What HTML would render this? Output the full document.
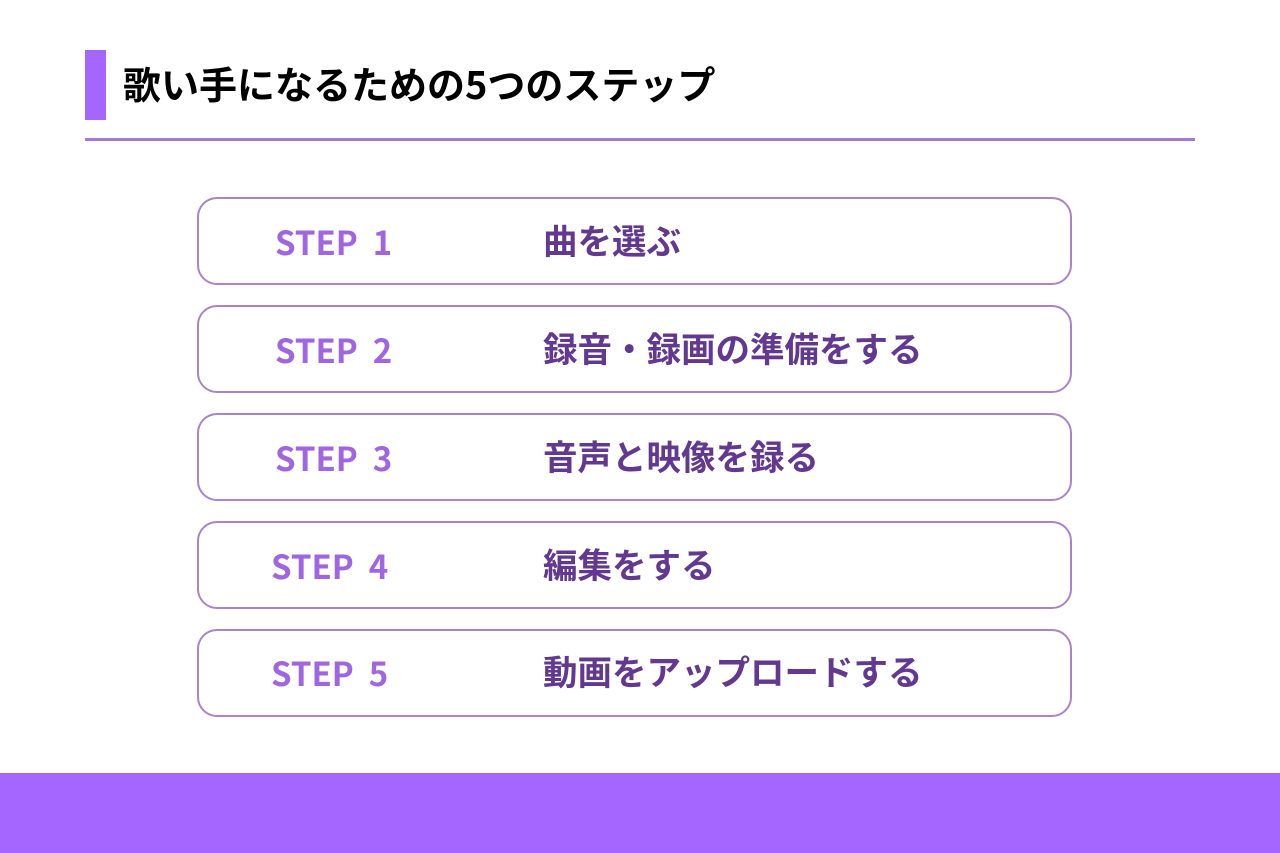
<!DOCTYPE html>
<html lang="ja"><head><meta charset="utf-8">
<style>
html,body{margin:0;padding:0;background:#fff}
#p{position:relative;width:1280px;height:853px;overflow:hidden;background:#fff;font-family:"Liberation Sans","Noto Sans CJK JP",sans-serif}
.a{position:absolute}
.t{white-space:nowrap;font-weight:700;line-height:1}
.box{position:absolute;left:197px;width:871px;height:84px;border:2px solid #a884cb;border-radius:20px;background:#fff}
.s{font-size:33px;color:#9f66e0;font-family:"Noto Sans CJK JP","Liberation Sans",sans-serif;white-space:pre}
.j{font-size:34.5px;color:#63388f;font-family:"Noto Sans CJK JP",sans-serif}
</style></head><body><div id="p">
<div class="a" style="left:85px;top:50px;width:21px;height:70px;background:#a566ff"></div>
<div class="a t" style="left:123px;top:64px;font-size:38px;color:#000;font-family:'Noto Sans CJK JP',sans-serif">歌い手になるための5つのステップ</div>
<div class="a" style="left:85px;top:138px;width:1110px;height:3px;background:#a678d2"></div>

<div class="box" style="top:197px"></div>
<div class="box" style="top:305px"></div>
<div class="box" style="top:413px"></div>
<div class="box" style="top:521px"></div>
<div class="box" style="top:629px"></div>

<div class="a t s" style="left:275px;top:225px">STEP  1</div>
<div class="a t s" style="left:275px;top:333px">STEP  2</div>
<div class="a t s" style="left:275px;top:441px">STEP  3</div>
<div class="a t s" style="left:271px;top:549px">STEP  4</div>
<div class="a t s" style="left:271px;top:656px">STEP  5</div>

<div class="a t j" style="left:543px;top:222px">曲を選ぶ</div>
<div class="a t j" style="left:543px;top:330px">録音・録画の準備をする</div>
<div class="a t j" style="left:543px;top:438px">音声と映像を録る</div>
<div class="a t j" style="left:543px;top:546px">編集をする</div>
<div class="a t j" style="left:543px;top:653px">動画をアップロードする</div>

<div class="a" style="left:0;top:773px;width:1280px;height:80px;background:#a566ff"></div>
</div></body></html>
